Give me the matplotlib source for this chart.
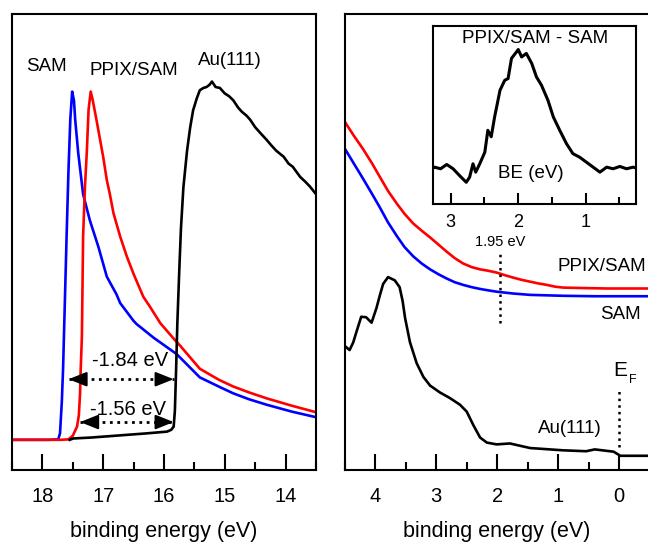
import matplotlib
matplotlib.use("Agg")
import matplotlib.pyplot as plt
from matplotlib.ticker import MultipleLocator

plt.rcParams['font.family'] = ['Liberation Sans', 'DejaVu Sans']

# ---- left panel: secondary electron cutoff ----
sam_x = [18.5, 17.9, 17.74, 17.71, 17.68, 17.66, 17.63, 17.60, 17.57, 17.54, 17.51, 17.48,
         17.46, 17.41, 17.33, 17.22, 17.08, 16.94, 16.78, 16.72, 16.5, 16.45, 16.17, 15.79,
         15.41, 15.1, 14.86, 14.6, 14.31, 13.9, 13.51]
sam_y = [0.066, 0.066, 0.067, 0.08, 0.15, 0.22, 0.37, 0.52, 0.66, 0.77, 0.83, 0.81,
         0.768, 0.695, 0.605, 0.548, 0.49, 0.424, 0.385, 0.366, 0.327, 0.32, 0.29, 0.254,
         0.203, 0.183, 0.168, 0.155, 0.143, 0.128, 0.116]

ppix_x = [18.5, 17.7, 17.57, 17.50, 17.43, 17.40, 17.38, 17.37, 17.35, 17.33, 17.30, 17.27,
          17.24, 17.205, 17.17, 17.11, 17.0, 16.94, 16.89, 16.83, 16.72, 16.61, 16.5, 16.34,
          16.23, 16.06, 15.84, 15.73, 15.41, 15.1, 14.86, 14.6, 14.31, 13.9, 13.51]
ppix_y = [0.066, 0.066, 0.067, 0.075, 0.095, 0.12, 0.168, 0.219, 0.292, 0.512, 0.62, 0.695,
          0.79, 0.83, 0.81, 0.768, 0.687, 0.636, 0.605, 0.563, 0.512, 0.468, 0.43, 0.38,
          0.358, 0.322, 0.288, 0.272, 0.222, 0.198, 0.183, 0.17, 0.157, 0.141, 0.127]

au_x = [17.55, 17.49, 17.2, 16.9, 16.6, 16.3, 15.95, 15.88, 15.84, 15.82, 15.80, 15.78,
        15.75, 15.72, 15.68, 15.62, 15.57, 15.52, 15.46, 15.41, 15.35, 15.30, 15.25, 15.21,
        15.15, 15.08, 15.0, 14.93, 14.86, 14.78, 14.72, 14.64, 14.58, 14.5, 14.42, 14.31,
        14.22, 14.15, 14.03, 13.95, 13.88, 13.76, 13.68, 13.6, 13.51]
au_y = [0.066, 0.069, 0.071, 0.074, 0.077, 0.080, 0.084, 0.088, 0.095, 0.13, 0.22, 0.32,
        0.43, 0.53, 0.62, 0.70, 0.75, 0.789, 0.815, 0.833, 0.838, 0.84, 0.845, 0.852,
        0.84, 0.838, 0.826, 0.82, 0.811, 0.795, 0.786, 0.777, 0.768, 0.752, 0.74, 0.724,
        0.71, 0.70, 0.687, 0.672, 0.665, 0.643, 0.633, 0.622, 0.607]

# ---- right panel: valence band ----
vb_ppix_x = [4.5, 4.35, 4.2, 4.05, 3.925, 3.79, 3.65, 3.52, 3.38, 3.24, 3.1, 2.96, 2.83,
             2.7, 2.56, 2.42, 2.28, 2.15, 2.01, 1.87, 1.74, 1.6, 1.46, 1.32, 1.19, 1.05,
             0.92, 0.6, 0.2, -0.5]
vb_ppix = [0.764, 0.733, 0.704, 0.672, 0.643, 0.612, 0.585, 0.562, 0.541, 0.525, 0.51,
           0.494, 0.479, 0.465, 0.453, 0.445, 0.44, 0.437, 0.433, 0.427, 0.422, 0.417,
           0.413, 0.409, 0.406, 0.402, 0.40, 0.399, 0.398, 0.398]

vb_sam_x = [4.5, 4.35, 4.2, 4.05, 3.925, 3.79, 3.65, 3.52, 3.38, 3.24, 3.1, 2.96, 2.83,
            2.7, 2.56, 2.42, 2.28, 2.15, 2.01, 1.74, 1.46, 1.19, 0.92, 0.4, -0.5]
vb_sam = [0.705, 0.672, 0.639, 0.605, 0.576, 0.543, 0.514, 0.489, 0.469, 0.453, 0.44,
          0.429, 0.42, 0.412, 0.406, 0.401, 0.397, 0.394, 0.391, 0.387, 0.384, 0.383,
          0.382, 0.381, 0.381]

vb_au_x = [4.5, 4.42, 4.36, 4.31, 4.23, 4.15, 4.06, 3.98, 3.92, 3.87, 3.79, 3.68, 3.6,
           3.55, 3.51, 3.43, 3.32, 3.21, 3.1, 2.94, 2.78, 2.61, 2.5, 2.39, 2.28, 2.17,
           2.01, 1.79, 1.46, 0.92, 0.54, 0.4, 0.09, -0.02, -0.5]
vb_au_y = [0.272, 0.263, 0.28, 0.302, 0.336, 0.335, 0.323, 0.355, 0.385, 0.408, 0.423,
           0.416, 0.401, 0.37, 0.333, 0.28, 0.234, 0.204, 0.185, 0.17, 0.158, 0.143, 0.128,
           0.098, 0.071, 0.06, 0.056, 0.058, 0.048, 0.043, 0.041, 0.045, 0.04, 0.031, 0.031]

# ---- inset: difference spectrum ----
diff_x = [3.258, 3.24, 3.15, 3.06, 2.965, 2.87, 2.77, 2.72, 2.67, 2.63, 2.57, 2.495, 2.45,
          2.40, 2.35, 2.27, 2.2, 2.15, 2.1, 2.025, 2.0, 1.95, 1.88, 1.80, 1.73, 1.655, 1.56,
          1.48, 1.385, 1.285, 1.19, 1.09, 0.99, 0.89, 0.79, 0.69, 0.595, 0.495, 0.395, 0.30,
          0.255]
diff_y = [0.203, 0.207, 0.198, 0.222, 0.198, 0.160, 0.122, 0.151, 0.226, 0.179, 0.226,
          0.291, 0.414, 0.378, 0.489, 0.639, 0.695, 0.705, 0.818, 0.855, 0.868, 0.826,
          0.846, 0.790, 0.714, 0.667, 0.583, 0.489, 0.414, 0.339, 0.283, 0.263, 0.235,
          0.207, 0.179, 0.207, 0.198, 0.211, 0.198, 0.207, 0.203]

fig = plt.figure(figsize=(6.48, 5.42), dpi=100)
axL = fig.add_axes([0.0185, 0.133, 0.469, 0.841])
axR = fig.add_axes([0.532, 0.133, 0.4705, 0.841])
axI = fig.add_axes([0.6687, 0.6236, 0.3128, 0.3284])

lw = 1.9
axL.plot(sam_x, sam_y, color='#0000ff', lw=lw)
axL.plot(ppix_x, ppix_y, color='#ff0000', lw=lw)
axL.plot(au_x, au_y, color='black', lw=lw)

axR.plot(vb_ppix_x, vb_ppix, color='#ff0000', lw=lw)
axR.plot(vb_sam_x, vb_sam, color='#0000ff', lw=lw)
axR.plot(vb_au_x, vb_au_y, color='black', lw=lw)

axI.plot(diff_x, diff_y, color='black', lw=2.2)

for ax in (axL, axR):
    ax.set_ylim(0, 1)
    ax.set_yticks([])
    ax.xaxis.set_major_locator(MultipleLocator(1))
    ax.xaxis.set_minor_locator(MultipleLocator(0.5))
    ax.tick_params(axis='x', which='major', direction='in', length=11.5, width=1.5,
                   labelsize=14.5, pad=12)
    ax.tick_params(axis='x', which='minor', direction='in', length=6, width=1.5)
    for s in ax.spines.values():
        s.set_linewidth(1.5)
    ax.set_xlabel('binding energy (eV)', fontsize=15.5, labelpad=11)

axL.set_xlim(18.5, 13.5)
axR.set_xlim(4.5, -0.5)

axI.set_xlim(3.258, 0.255)
axI.set_ylim(0, 1)
axI.set_yticks([])
axI.xaxis.set_major_locator(MultipleLocator(1))
axI.xaxis.set_minor_locator(MultipleLocator(0.5))
axI.tick_params(axis='x', which='major', direction='in', length=8, width=1.5,
                labelsize=13, pad=7.5)
axI.tick_params(axis='x', which='minor', direction='in', length=5, width=1.5)
for s in axI.spines.values():
    s.set_linewidth(1.5)
axI.text(0.5, 0.93, 'PPIX/SAM - SAM', transform=axI.transAxes, ha='center', va='center',
         fontsize=13.5)
axI.text(1.81, 0.174, 'BE (eV)', ha='center', va='center', fontsize=13.5)

# left panel labels
axL.text(17.93, 0.884, 'SAM', ha='center', va='center', fontsize=13.5)
axL.text(16.5, 0.877, 'PPIX/SAM', ha='center', va='center', fontsize=13.5)
axL.text(14.91, 0.899, 'Au(111)', ha='center', va='center', fontsize=13.5)

# double arrows: dotted shaft + solid heads
head = dict(arrowstyle='-|>,head_length=0.55,head_width=0.22', lw=1.5, color='black',
            shrinkA=0, shrinkB=0, mutation_scale=20)
for x0, x1, yv in [(17.57, 15.84, 0.199), (17.38, 15.84, 0.105)]:
    axL.plot([x0, x1], [yv, yv], color='black', ls=':', lw=2)
    axL.annotate('', xy=(x0, yv), xytext=(x0 - 0.25, yv), arrowprops=head)
    axL.annotate('', xy=(x1, yv), xytext=(x1 + 0.25, yv), arrowprops=head)
axL.text(16.55, 0.239, '-1.84 eV', ha='center', va='center', fontsize=14.5)
axL.text(16.59, 0.132, '-1.56 eV', ha='center', va='center', fontsize=14.5)

# right panel labels
axR.plot([1.95, 1.95], [0.322, 0.479], color='black', ls=':', lw=1.8)
axR.text(1.955, 0.50, '1.95 eV', ha='center', va='center', fontsize=10.5)
axR.text(-0.45, 0.446, 'PPIX/SAM', ha='right', va='center', fontsize=13.5)
axR.text(-0.36, 0.34, 'SAM', ha='right', va='center', fontsize=13.5)
axR.text(0.815, 0.091, 'Au(111)', ha='center', va='center', fontsize=13.5)
axR.plot([0, 0], [0.05, 0.18], color='black', ls=':', lw=1.8)
axR.text(-0.015, 0.219, 'E', ha='center', va='center', fontsize=15)
axR.text(-0.224, 0.197, 'F', ha='center', va='center', fontsize=9)

fig.savefig('out.png', dpi=100)
